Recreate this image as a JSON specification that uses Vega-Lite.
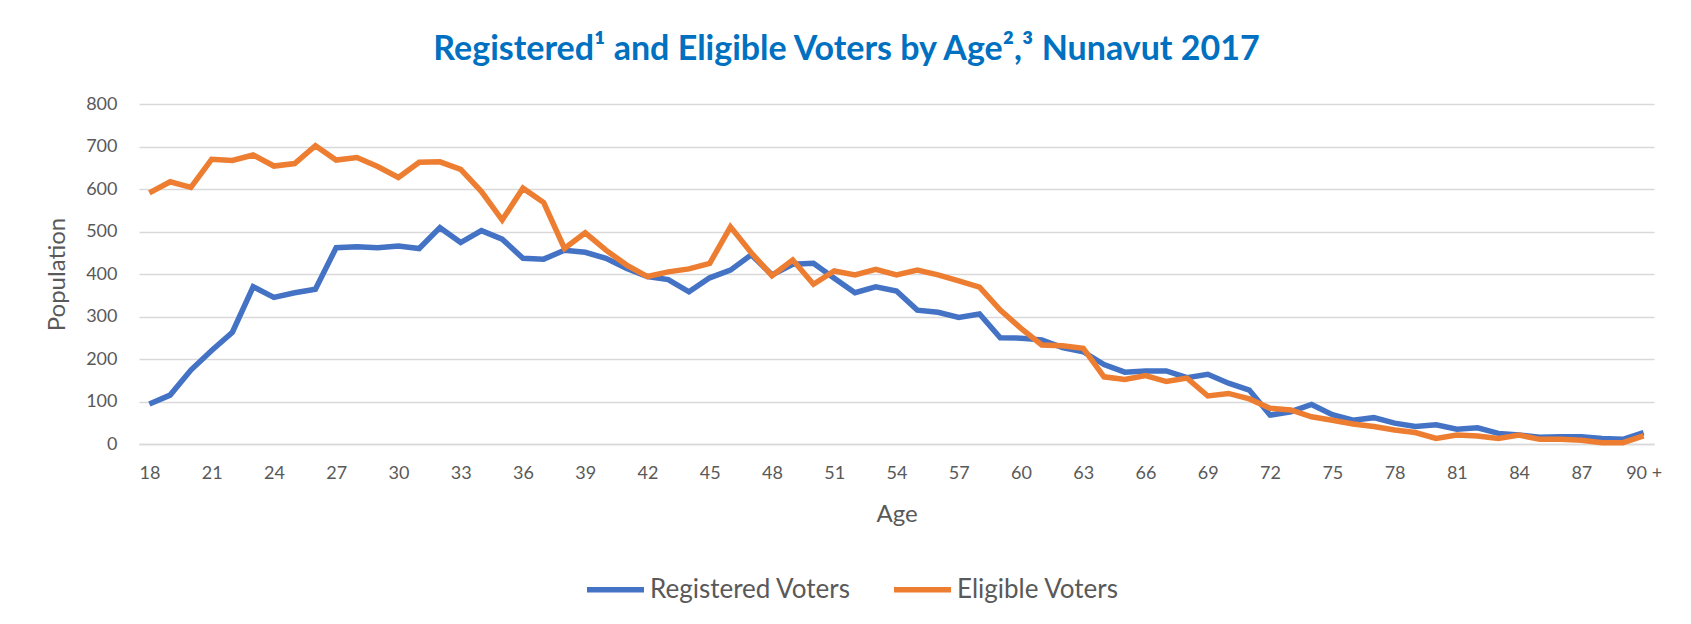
{
  "$schema": "https://vega.github.io/schema/vega-lite/v6.json",
  "autosize": {"type": "none"},
  "width": 1515,
  "height": 340,
  "padding": {"left": 139, "top": 104, "right": 37, "bottom": 180},
  "background": "white",
  "title": {
    "text": "Registered¹ and Eligible Voters by Age²,³ Nunavut 2017",
    "font": "Lato",
    "fontSize": 34,
    "fontWeight": "bold",
    "color": "#0070C0",
    "anchor": "middle",
    "dx": -50,
    "offset": 28
  },
  "data": {
    "values": [
      {"age": "18", "series": "Registered Voters", "value": 94},
      {"age": "19", "series": "Registered Voters", "value": 115},
      {"age": "20", "series": "Registered Voters", "value": 174},
      {"age": "21", "series": "Registered Voters", "value": 220},
      {"age": "22", "series": "Registered Voters", "value": 263},
      {"age": "23", "series": "Registered Voters", "value": 370},
      {"age": "24", "series": "Registered Voters", "value": 345},
      {"age": "25", "series": "Registered Voters", "value": 356},
      {"age": "26", "series": "Registered Voters", "value": 364},
      {"age": "27", "series": "Registered Voters", "value": 462},
      {"age": "28", "series": "Registered Voters", "value": 464},
      {"age": "29", "series": "Registered Voters", "value": 462},
      {"age": "30", "series": "Registered Voters", "value": 466},
      {"age": "31", "series": "Registered Voters", "value": 460},
      {"age": "32", "series": "Registered Voters", "value": 509},
      {"age": "33", "series": "Registered Voters", "value": 474},
      {"age": "34", "series": "Registered Voters", "value": 502},
      {"age": "35", "series": "Registered Voters", "value": 482},
      {"age": "36", "series": "Registered Voters", "value": 437},
      {"age": "37", "series": "Registered Voters", "value": 435},
      {"age": "38", "series": "Registered Voters", "value": 456},
      {"age": "39", "series": "Registered Voters", "value": 451},
      {"age": "40", "series": "Registered Voters", "value": 437},
      {"age": "41", "series": "Registered Voters", "value": 413},
      {"age": "42", "series": "Registered Voters", "value": 394},
      {"age": "43", "series": "Registered Voters", "value": 387},
      {"age": "44", "series": "Registered Voters", "value": 358},
      {"age": "45", "series": "Registered Voters", "value": 391},
      {"age": "46", "series": "Registered Voters", "value": 409},
      {"age": "47", "series": "Registered Voters", "value": 445},
      {"age": "48", "series": "Registered Voters", "value": 398},
      {"age": "49", "series": "Registered Voters", "value": 423},
      {"age": "50", "series": "Registered Voters", "value": 425},
      {"age": "51", "series": "Registered Voters", "value": 390},
      {"age": "52", "series": "Registered Voters", "value": 356},
      {"age": "53", "series": "Registered Voters", "value": 370},
      {"age": "54", "series": "Registered Voters", "value": 360},
      {"age": "55", "series": "Registered Voters", "value": 315},
      {"age": "56", "series": "Registered Voters", "value": 310},
      {"age": "57", "series": "Registered Voters", "value": 298},
      {"age": "58", "series": "Registered Voters", "value": 306},
      {"age": "59", "series": "Registered Voters", "value": 250},
      {"age": "60", "series": "Registered Voters", "value": 249},
      {"age": "61", "series": "Registered Voters", "value": 245},
      {"age": "62", "series": "Registered Voters", "value": 227},
      {"age": "63", "series": "Registered Voters", "value": 217},
      {"age": "64", "series": "Registered Voters", "value": 187},
      {"age": "65", "series": "Registered Voters", "value": 169},
      {"age": "66", "series": "Registered Voters", "value": 172},
      {"age": "67", "series": "Registered Voters", "value": 172},
      {"age": "68", "series": "Registered Voters", "value": 156},
      {"age": "69", "series": "Registered Voters", "value": 164},
      {"age": "70", "series": "Registered Voters", "value": 143},
      {"age": "71", "series": "Registered Voters", "value": 127},
      {"age": "72", "series": "Registered Voters", "value": 68},
      {"age": "73", "series": "Registered Voters", "value": 76},
      {"age": "74", "series": "Registered Voters", "value": 93},
      {"age": "75", "series": "Registered Voters", "value": 69},
      {"age": "76", "series": "Registered Voters", "value": 56},
      {"age": "77", "series": "Registered Voters", "value": 62},
      {"age": "78", "series": "Registered Voters", "value": 49},
      {"age": "79", "series": "Registered Voters", "value": 41},
      {"age": "80", "series": "Registered Voters", "value": 45},
      {"age": "81", "series": "Registered Voters", "value": 35},
      {"age": "82", "series": "Registered Voters", "value": 38},
      {"age": "83", "series": "Registered Voters", "value": 25},
      {"age": "84", "series": "Registered Voters", "value": 21},
      {"age": "85", "series": "Registered Voters", "value": 16},
      {"age": "86", "series": "Registered Voters", "value": 17},
      {"age": "87", "series": "Registered Voters", "value": 17},
      {"age": "88", "series": "Registered Voters", "value": 13},
      {"age": "89", "series": "Registered Voters", "value": 11},
      {"age": "90 +", "series": "Registered Voters", "value": 27},
      {"age": "18", "series": "Eligible Voters", "value": 591},
      {"age": "19", "series": "Eligible Voters", "value": 617},
      {"age": "20", "series": "Eligible Voters", "value": 604},
      {"age": "21", "series": "Eligible Voters", "value": 670},
      {"age": "22", "series": "Eligible Voters", "value": 667},
      {"age": "23", "series": "Eligible Voters", "value": 680},
      {"age": "24", "series": "Eligible Voters", "value": 654},
      {"age": "25", "series": "Eligible Voters", "value": 660},
      {"age": "26", "series": "Eligible Voters", "value": 702},
      {"age": "27", "series": "Eligible Voters", "value": 668},
      {"age": "28", "series": "Eligible Voters", "value": 674},
      {"age": "29", "series": "Eligible Voters", "value": 653},
      {"age": "30", "series": "Eligible Voters", "value": 627},
      {"age": "31", "series": "Eligible Voters", "value": 663},
      {"age": "32", "series": "Eligible Voters", "value": 664},
      {"age": "33", "series": "Eligible Voters", "value": 646},
      {"age": "34", "series": "Eligible Voters", "value": 594},
      {"age": "35", "series": "Eligible Voters", "value": 527},
      {"age": "36", "series": "Eligible Voters", "value": 602},
      {"age": "37", "series": "Eligible Voters", "value": 568},
      {"age": "38", "series": "Eligible Voters", "value": 460},
      {"age": "39", "series": "Eligible Voters", "value": 497},
      {"age": "40", "series": "Eligible Voters", "value": 456},
      {"age": "41", "series": "Eligible Voters", "value": 421},
      {"age": "42", "series": "Eligible Voters", "value": 394},
      {"age": "43", "series": "Eligible Voters", "value": 405},
      {"age": "44", "series": "Eligible Voters", "value": 412},
      {"age": "45", "series": "Eligible Voters", "value": 425},
      {"age": "46", "series": "Eligible Voters", "value": 511},
      {"age": "47", "series": "Eligible Voters", "value": 450},
      {"age": "48", "series": "Eligible Voters", "value": 396},
      {"age": "49", "series": "Eligible Voters", "value": 433},
      {"age": "50", "series": "Eligible Voters", "value": 376},
      {"age": "51", "series": "Eligible Voters", "value": 407},
      {"age": "52", "series": "Eligible Voters", "value": 398},
      {"age": "53", "series": "Eligible Voters", "value": 411},
      {"age": "54", "series": "Eligible Voters", "value": 398},
      {"age": "55", "series": "Eligible Voters", "value": 409},
      {"age": "56", "series": "Eligible Voters", "value": 398},
      {"age": "57", "series": "Eligible Voters", "value": 384},
      {"age": "58", "series": "Eligible Voters", "value": 369},
      {"age": "59", "series": "Eligible Voters", "value": 315},
      {"age": "60", "series": "Eligible Voters", "value": 272},
      {"age": "61", "series": "Eligible Voters", "value": 233},
      {"age": "62", "series": "Eligible Voters", "value": 231},
      {"age": "63", "series": "Eligible Voters", "value": 225},
      {"age": "64", "series": "Eligible Voters", "value": 158},
      {"age": "65", "series": "Eligible Voters", "value": 152},
      {"age": "66", "series": "Eligible Voters", "value": 161},
      {"age": "67", "series": "Eligible Voters", "value": 147},
      {"age": "68", "series": "Eligible Voters", "value": 155},
      {"age": "69", "series": "Eligible Voters", "value": 113},
      {"age": "70", "series": "Eligible Voters", "value": 119},
      {"age": "71", "series": "Eligible Voters", "value": 106},
      {"age": "72", "series": "Eligible Voters", "value": 84},
      {"age": "73", "series": "Eligible Voters", "value": 80},
      {"age": "74", "series": "Eligible Voters", "value": 64},
      {"age": "75", "series": "Eligible Voters", "value": 56},
      {"age": "76", "series": "Eligible Voters", "value": 47},
      {"age": "77", "series": "Eligible Voters", "value": 41},
      {"age": "78", "series": "Eligible Voters", "value": 33},
      {"age": "79", "series": "Eligible Voters", "value": 27},
      {"age": "80", "series": "Eligible Voters", "value": 13},
      {"age": "81", "series": "Eligible Voters", "value": 21},
      {"age": "82", "series": "Eligible Voters", "value": 19},
      {"age": "83", "series": "Eligible Voters", "value": 13},
      {"age": "84", "series": "Eligible Voters", "value": 21},
      {"age": "85", "series": "Eligible Voters", "value": 11},
      {"age": "86", "series": "Eligible Voters", "value": 11},
      {"age": "87", "series": "Eligible Voters", "value": 9},
      {"age": "88", "series": "Eligible Voters", "value": 3},
      {"age": "89", "series": "Eligible Voters", "value": 3},
      {"age": "90 +", "series": "Eligible Voters", "value": 19}
    ]
  },
  "mark": {"type": "line", "strokeWidth": 5.5, "strokeJoin": "miter", "strokeCap": "butt"},
  "encoding": {
    "x": {
      "field": "age",
      "type": "ordinal",
      "sort": null,
      "scale": {"type": "point", "padding": 0.5},
      "axis": {
        "title": "Age",
        "values": ["18","21","24","27","30","33","36","39","42","45","48","51","54","57","60","63","66","69","72","75","78","81","84","87","90 +"],
        "labelAngle": 0,
        "labelPadding": 20,
        "titlePadding": 20,
        "grid": false,
        "ticks": false,
        "domain": true,
        "domainColor": "#D9D9D9",
        "domainWidth": 1.5
      }
    },
    "y": {
      "field": "value",
      "type": "quantitative",
      "scale": {"domain": [0, 800], "nice": false},
      "axis": {
        "title": "Population",
        "values": [0, 100, 200, 300, 400, 500, 600, 700, 800],
        "labelPadding": 22,
        "titlePadding": 16,
        "grid": true,
        "gridColor": "#D9D9D9",
        "gridWidth": 1.5,
        "ticks": false,
        "domain": false
      }
    },
    "color": {
      "field": "series",
      "type": "nominal",
      "sort": ["Registered Voters", "Eligible Voters"],
      "scale": {"domain": ["Registered Voters", "Eligible Voters"], "range": ["#4472C4", "#ED7D31"]},
      "legend": {
        "title": null,
        "orient": "none",
        "direction": "horizontal",
        "legendX": 445,
        "legendY": 454,
        "symbolType": "stroke",
        "symbolSize": 3250,
        "symbolStrokeWidth": 5.5,
        "labelOffset": 3,
        "columnPadding": 31,
        "labelFontSize": 26,
        "labelLimit": 0,
        "labelFont": "Lato",
        "labelColor": "#595959"
      }
    }
  },
  "config": {
    "view": {"stroke": null},
    "axis": {
      "labelFont": "Lato",
      "labelFontSize": 18,
      "labelColor": "#595959",
      "titleFont": "Lato",
      "titleFontSize": 24,
      "titleFontWeight": "normal",
      "titleColor": "#595959"
    }
  }
}
